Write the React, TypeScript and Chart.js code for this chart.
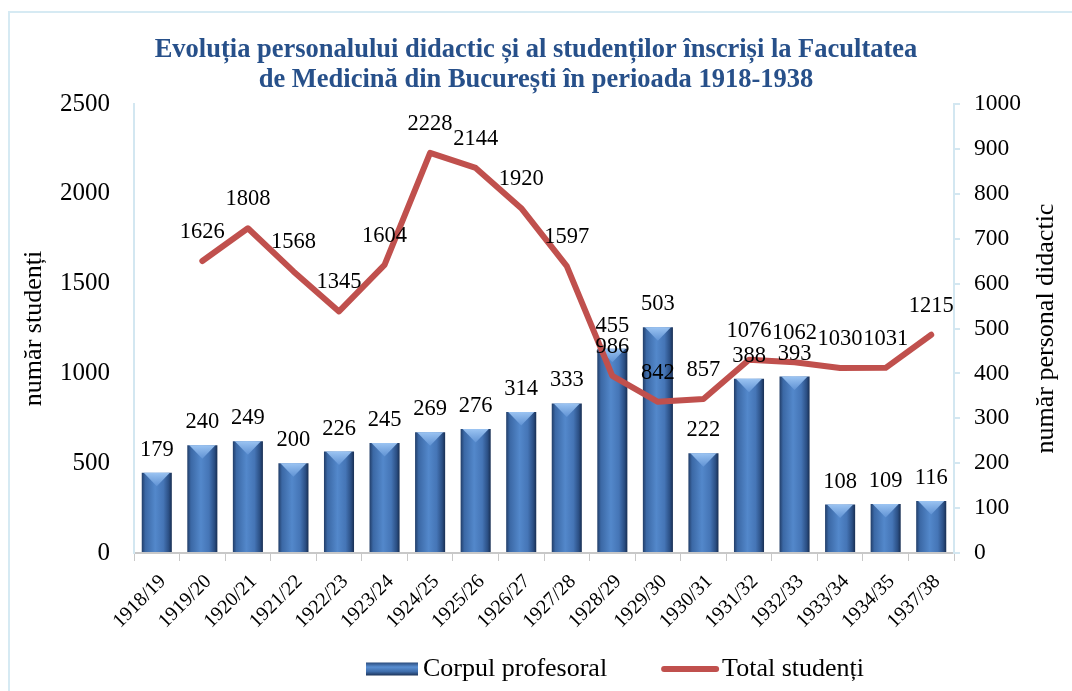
import React, { useEffect, useRef } from "react";
import { Chart, registerables } from "chart.js";

Chart.register(...registerables);

const W = 1072;
const H = 691;
const SERIF = '"Liberation Serif", "Times New Roman", Times, serif';

const categories = [
  "1918/19", "1919/20", "1920/21", "1921/22", "1922/23", "1923/24",
  "1924/25", "1925/26", "1926/27", "1927/28", "1928/29", "1929/30",
  "1930/31", "1931/32", "1932/33", "1933/34", "1934/35", "1937/38",
];
const corpulProfesoral = [179, 240, 249, 200, 226, 245, 269, 276, 314, 333, 455, 503, 222, 388, 393, 108, 109, 116];
const totalStudenti: (number | null)[] = [null, 1626, 1808, 1568, 1345, 1604, 2228, 2144, 1920, 1597, 986, 842, 857, 1076, 1062, 1030, 1031, 1215];
const studentTicks = [0, 500, 1000, 1500, 2000, 2500];
const staffTicks = [0, 100, 200, 300, 400, 500, 600, 700, 800, 900, 1000];

const titleLines = [
  "Evoluția personalului didactic și al studenților înscriși la Facultatea",
  "de Medicină din București în perioada 1918-1938",
];
const leftAxisTitle = "număr studenți";
const rightAxisTitle = "număr personal didactic";
const barSeriesName = "Corpul profesoral";
const lineSeriesName = "Total studenți";

const BAR_FRACTION = 0.66;
const RED = "#c0504d";
const AXIS_BLUE = "#d3e7f1";

function barGradient(ctx: CanvasRenderingContext2D, x0: number, x1: number) {
  const g = ctx.createLinearGradient(x0, 0, x1, 0);
  g.addColorStop(0, "#213d68");
  g.addColorStop(0.12, "#3b68a5");
  g.addColorStop(0.45, "#5388cb");
  g.addColorStop(0.72, "#4575b6");
  g.addColorStop(0.9, "#2b4f84");
  g.addColorStop(1, "#182e52");
  return g;
}

export default function App() {
  const ref = useRef<HTMLCanvasElement>(null);

  useEffect(() => {
    document.body.style.margin = "0";
    document.body.style.overflow = "hidden";
    const canvas = ref.current;
    if (!canvas) return;

    const framePlugin = {
      id: "frame",
      beforeDraw(chart: any) {
        const c = chart.ctx;
        c.save();
        c.fillStyle = "#ffffff";
        c.fillRect(0, 0, W, H);
        c.strokeStyle = "#d6eaf3";
        c.lineWidth = 2;
        c.strokeRect(9, 12, W + 40, H + 40);
        c.restore();
      },
    };

    const bevelPlugin = {
      id: "bevel",
      afterDatasetDraw(chart: any, args: any) {
        if (args.meta.type !== "bar") return;
        const c = chart.ctx;
        c.save();
        args.meta.data.forEach((el: any) => {
          const { x, y, width } = el.getProps(["x", "y", "width"], true);
          const l = x - width / 2;
          const r = x + width / 2;
          const d = width * 0.45;
          const g = c.createLinearGradient(0, y, 0, y + d);
          g.addColorStop(0, "rgba(160,200,245,0.95)");
          g.addColorStop(1, "rgba(100,150,215,0.85)");
          c.beginPath();
          c.moveTo(l + 2, y);
          c.lineTo(r - 2, y);
          c.lineTo(x, y + d);
          c.closePath();
          c.fillStyle = g;
          c.fill();
        });
        c.restore();
      },
    };

    const labelPlugin = {
      id: "valueLabels",
      afterDatasetsDraw(chart: any) {
        const c = chart.ctx;
        c.save();
        c.font = `22.5px ${SERIF}`;
        c.fillStyle = "#000";
        c.textAlign = "center";
        c.textBaseline = "alphabetic";
        chart.data.datasets.forEach((ds: any, di: number) => {
          const meta = chart.getDatasetMeta(di);
          meta.data.forEach((el: any, i: number) => {
            const v = ds.data[i];
            if (v === null || v === undefined) return;
            const { x, y } = el.getProps(["x", "y"], true);
            const lift = meta.type === "bar" ? 17 : 23;
            c.fillText(String(v), x, y - lift);
          });
        });
        c.restore();
      },
    };

    const legendPlugin = {
      id: "customLegend",
      afterDraw(chart: any) {
        const c = chart.ctx;
        c.save();
        c.font = `26px ${SERIF}`;
        c.fillStyle = "#000";
        c.textBaseline = "middle";
        c.textAlign = "left";
        const cy = 669;
        let x = 366;
        const bw = 52;
        const bh = 13;
        const g = c.createLinearGradient(0, cy - bh / 2, 0, cy + bh / 2);
        g.addColorStop(0, "#2a4b7c");
        g.addColorStop(0.35, "#5a8fd2");
        g.addColorStop(0.7, "#3f6dab");
        g.addColorStop(1, "#1c3358");
        c.fillStyle = g;
        c.fillRect(x, cy - bh / 2, bw, bh);
        c.fillStyle = "#000";
        const t1 = chart.data.datasets[0].label;
        c.fillText(t1, x + bw + 5, cy);
        x = x + bw + 5 + c.measureText(t1).width + 55;
        c.strokeStyle = RED;
        c.lineWidth = 6;
        c.lineCap = "round";
        c.beginPath();
        c.moveTo(x + 2, cy);
        c.lineTo(x + 54, cy);
        c.stroke();
        const t2 = chart.data.datasets[1].label;
        c.fillText(t2, x + 60, cy);
        const area = chart.chartArea;
        c.translate(1053, (area.top + area.bottom) / 2);
        c.rotate(-Math.PI / 2);
        c.textAlign = "center";
        c.textBaseline = "alphabetic";
        c.fillText(rightAxisTitle, 0, 0);
        c.restore();
      },
    };

    const chart = new Chart(canvas, {
      data: {
        labels: categories,
        datasets: [
          {
            type: "bar",
            label: barSeriesName,
            data: corpulProfesoral,
            yAxisID: "y1",
            order: 1,
            barPercentage: BAR_FRACTION,
            categoryPercentage: 1,
            backgroundColor: (ctx: any) => {
              const ch = ctx.chart;
              const xs = ch.scales?.x;
              if (ctx.type !== "data" || !xs || !ch.chartArea) return "#4a7ebb";
              const center = xs.getPixelForValue(ctx.dataIndex);
              const half = ((xs.width / categories.length) * BAR_FRACTION) / 2;
              return barGradient(ch.ctx, center - half, center + half);
            },
            borderWidth: 0,
          },
          {
            type: "line",
            label: lineSeriesName,
            data: totalStudenti,
            yAxisID: "y",
            order: 0,
            borderColor: RED,
            backgroundColor: RED,
            borderWidth: 6,
            pointRadius: 0,
            tension: 0,
            borderCapStyle: "round",
            borderJoinStyle: "round",
          },
        ],
      } as any,
      options: {
        responsive: false,
        animation: false,
        devicePixelRatio: 1,
        layout: { padding: { left: 0, right: 0, top: 0, bottom: 0 } },
        plugins: {
          legend: { display: false },
          tooltip: { enabled: false },
          title: {
            display: true,
            text: titleLines,
            color: "#27508a",
            font: { family: SERIF, size: 26.5, weight: "bold", lineHeight: 30 / 26.5 },
            padding: { top: 35, bottom: 9 },
          },
        },
        scales: {
          x: {
            offset: true,
            grid: {
              display: true,
              drawOnChartArea: false,
              drawTicks: true,
              tickLength: 8,
              color: "#c8c8c8",
              offset: true,
            },
            border: { display: true, color: "#c8c8c8", width: 2 },
            ticks: {
              autoSkip: false,
              minRotation: 45,
              maxRotation: 45,
              labelOffset: 6,
              padding: 9,
              color: "#000",
              font: { family: SERIF, size: 20 },
            },
            afterFit: (s: any) => {
              s.height = 138;
            },
          },
          y: {
            position: "left",
            min: 0,
            max: 2500,
            afterBuildTicks: (s: any) => {
              s.ticks = studentTicks.map((v) => ({ value: v }));
            },
            grid: { display: false, drawTicks: false },
            border: { display: true, color: AXIS_BLUE, width: 2 },
            ticks: {
              padding: 24,
              color: "#000",
              font: { family: SERIF, size: 25 },
              callback: (v: any) => String(v),
            },
            title: {
              display: true,
              text: leftAxisTitle,
              color: "#000",
              font: { family: SERIF, size: 26 },
              padding: { top: 19, bottom: 0 },
            },
            afterFit: (s: any) => {
              s.width = 134;
            },
          },
          y1: {
            position: "right",
            min: 0,
            max: 1000,
            afterBuildTicks: (s: any) => {
              s.ticks = staffTicks.map((v) => ({ value: v }));
            },
            grid: {
              display: true,
              drawOnChartArea: false,
              drawTicks: true,
              tickLength: 6,
              color: AXIS_BLUE,
              lineWidth: 2,
            },
            border: { display: true, color: AXIS_BLUE, width: 2 },
            ticks: {
              padding: 14,
              color: "#000",
              font: { family: SERIF, size: 23.5 },
              callback: (v: any) => String(v),
            },
            afterFit: (s: any) => {
              s.width = 118;
            },
          },
        },
      } as any,
      plugins: [framePlugin, bevelPlugin, labelPlugin, legendPlugin],
    });

    return () => chart.destroy();
  }, []);

  return <canvas ref={ref} width={W} height={H} style={{ display: "block", width: W, height: H }} />;
}
